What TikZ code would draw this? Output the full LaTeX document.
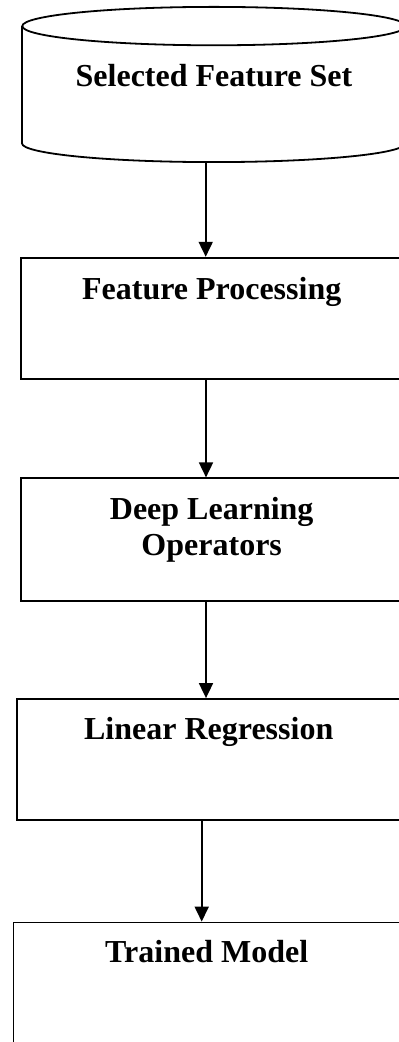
\documentclass[tikz,border=0pt]{standalone}
\usepackage{fontspec}
\setmainfont{Liberation Serif}
\usetikzlibrary{arrows.meta}

\begin{document}
\begin{tikzpicture}[x=0.5pt,y=-0.5pt]
\tikzstyle{every node}+=[inner sep=0pt]
\tikzstyle{store}=[minimum width=191.7pt, minimum height=77.2pt]
\tikzstyle{box}=[draw, line width=0.9pt, minimum height=60.8pt]
\tikzstyle{lbl}=[font=\fontsize{16}{18}\selectfont\bfseries, align=center, anchor=base]
\tikzstyle{flow}=[line width=0.9pt, -{Triangle[length=7.5pt,width=7pt]}]
\useasboundingbox (0,0) rectangle (399,1042);
\node[store] (fs) at (214,84.5) {};
\draw[line width=0.9pt] ([yshift=-9.6pt]fs.north west) -- ([yshift=9.4pt]fs.south west)
  arc[start angle=180, end angle=360, x radius=95.85pt, y radius=9.4pt]
  -- ([yshift=-9.6pt]fs.north east);
\draw[line width=0.9pt] ([yshift=-9.6pt]fs.north) ellipse [x radius=95.85pt, y radius=9.6pt];
\node[lbl] (fs-txt) at (214,87) {Selected Feature Set};
\node[box, minimum width=191pt] (fp) at (211.7,318.5) {};
\node[lbl] (fp-txt) at (211.7,299.3) {Feature Processing};
\node[box, minimum width=191pt, minimum height=61.2pt] (dl) at (211.7,539.5) {};
\node[lbl] (dl-txt) at (211.7,555) {Deep Learning\\Operators};
\node[box, minimum width=192pt, minimum height=60.5pt] (lr) at (208.7,759.5) {};
\node[lbl] (lr-txt) at (208.7,739) {Linear Regression};
\node[box, minimum width=193.3pt, minimum height=60.5pt] (tm) at (206.7,983) {};
\node[lbl] (tm-txt) at (206.7,962) {Trained Model};
\coordinate (a1) at (205.7,0);
\coordinate (a2) at (206,0);
\coordinate (a3) at (206,0);
\coordinate (a4) at (201.7,0);
\draw[flow] (fs.south -| a1) -- (fp.north -| a1);
\draw[flow] (fp.south -| a2) -- (dl.north -| a2);
\draw[flow] (dl.south -| a3) -- (lr.north -| a3);
\draw[flow] (lr.south -| a4) -- (tm.north -| a4);
\end{tikzpicture}
\end{document}
